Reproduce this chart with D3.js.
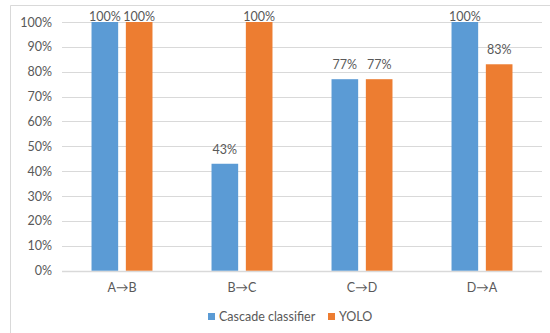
<!DOCTYPE html>
<html>
<head>
<meta charset="utf-8">
<script src="https://cdn.jsdelivr.net/npm/d3@7/dist/d3.min.js"></script>
<style>
  html, body { margin: 0; padding: 0; background: #fff; }
  svg { display: block; }
  text { font-family: Lato, "Open Sans", "Liberation Sans", sans-serif; fill: #595959; }
</style>
</head>
<body>
<svg id="chart" width="550" height="333"></svg>
<script>
// Transfer accuracy per domain pair
const categories = ["A\u2192B", "B\u2192C", "C\u2192D", "D\u2192A"];
const seriesNames = ["Cascade classifier", "YOLO"];
const cascadeValues = [100, 43, 77, 100];
const yoloValues = [100, 100, 77, 83];
const yTicks = [0, 10, 20, 30, 40, 50, 60, 70, 80, 90, 100];
const colors = ["#5B9BD5", "#ED7D31"];

const svg = d3.select("#chart");
const W = 550, H = 333;
const margin = { left: 62, right: 8, top: 22, bottom: 62 };
const FONT = 'Lato, "Open Sans", "Liberation Sans", sans-serif';

// Outer frame (top and left edges visible)
svg.append("path")
  .attr("d", `M10.5,${H} V5.5 H${W}`)
  .attr("fill", "none")
  .attr("stroke", "#D9D9D9")
  .attr("stroke-width", 1);

const x = d3.scaleBand()
  .domain(categories)
  .range([margin.left, W - margin.right])
  .paddingInner(0).paddingOuter(0);

const y = d3.scaleLinear()
  .domain([0, 100])
  .range([H - margin.bottom - 0.3, margin.top]);

// Gridlines
svg.append("g")
  .selectAll("line")
  .data(yTicks)
  .join("line")
  .attr("x1", margin.left)
  .attr("x2", W - margin.right)
  .attr("y1", d => Math.round(y(d)) + 0.5)
  .attr("y2", d => Math.round(y(d)) + 0.5)
  .attr("stroke", "#D9D9D9")
  .attr("stroke-width", d => d === 0 ? 1.5 : 1);

// Y axis labels
const yAxis = d3.axisLeft(y).tickValues(yTicks).tickFormat(d => d + "%").tickSize(0).tickPadding(0);
const yg = svg.append("g").attr("transform", `translate(${margin.left - 10},0)`).call(yAxis);
yg.select(".domain").remove();
yg.selectAll("text").attr("font-size", 12.5).style("fill", "#595959").style("font-family", FONT);

// X axis labels
const xAxis = d3.axisBottom(x).tickSize(0).tickPadding(0);
const xg = svg.append("g").attr("transform", `translate(0,${y(0) + 12})`).call(xAxis);
xg.select(".domain").remove();
xg.selectAll("text").attr("font-size", 12.5).style("fill", "#595959").style("font-family", FONT);

// Grouped bars with value labels
const bandW = x.bandwidth();
const barW = bandW * 0.222;
const gap = bandW * 0.064;
const series = [cascadeValues, yoloValues];

series.forEach((vals, si) => {
  const offset = si === 0 ? -gap / 2 - barW : gap / 2;
  const g = svg.append("g");
  g.selectAll("rect")
    .data(vals)
    .join("rect")
    .attr("x", (d, i) => x(categories[i]) + bandW / 2 + offset)
    .attr("y", d => y(d))
    .attr("width", barW)
    .attr("height", d => y(0) - y(d))
    .attr("fill", colors[si]);
  g.selectAll("text")
    .data(vals)
    .join("text")
    .attr("x", (d, i) => x(categories[i]) + bandW / 2 + offset + barW / 2)
    // labels sit above the bar but are kept inside the plot frame
    .attr("y", d => Math.max(y(d) - 10, margin.top - 1.5))
    .attr("text-anchor", "middle")
    .attr("font-size", 12.5)
    .text(d => d + "%");
});

// Legend
const legendItems = [
  { name: seriesNames[0], color: colors[0], x: 208 },
  { name: seriesNames[1], color: colors[1], x: 328 }
];
const lg = svg.append("g");
legendItems.forEach(item => {
  lg.append("rect")
    .attr("x", item.x).attr("y", 313)
    .attr("width", 7).attr("height", 7)
    .attr("fill", item.color);
  lg.append("text")
    .attr("x", item.x + 11).attr("y", 321)
    .attr("font-size", 12.5)
    .text(item.name);
});
</script>
</body>
</html>
